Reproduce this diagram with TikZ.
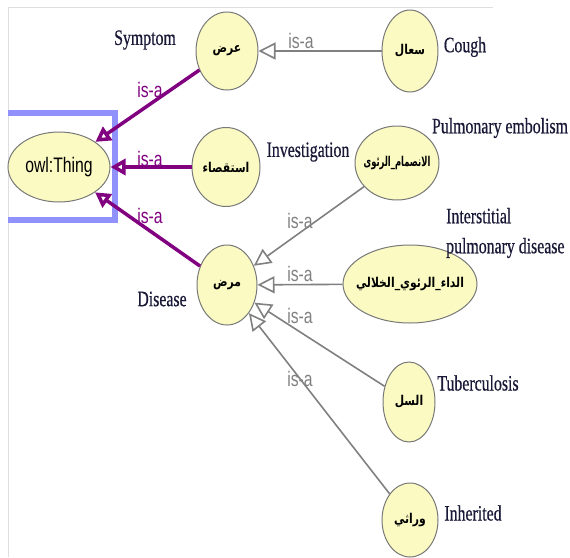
\documentclass[tikz,border=0pt]{standalone}
\usepackage{fontspec}
\setmainfont{Liberation Serif}[FakeStretch=0.72,FakeBold=0.5]
\newfontfamily\lsans{Liberation Sans}[FakeStretch=0.75]
\newfontfamily\arabicfont[Script=Arabic,FakeStretch=0.8]{DejaVu Sans Bold}
\newfontfamily\arabicnarrow[Script=Arabic,FakeStretch=0.62]{DejaVu Sans Bold}
\newcommand{\artxt}[1]{\makebox[0pt]{\beginR #1\endR}}
\TeXXeTstate=1
\usetikzlibrary{shapes.geometric,arrows.meta}
\definecolor{nodefill}{RGB}{250,250,194}
\definecolor{nodeline}{RGB}{120,120,120}
\definecolor{isapurple}{RGB}{128,0,128}
\definecolor{isagray}{RGB}{128,128,128}
\definecolor{selblue}{RGB}{145,145,252}
\definecolor{framegray}{RGB}{222,222,222}
\definecolor{labelnavy}{RGB}{25,25,55}
\tikzset{
  cls/.style={ellipse, draw=nodeline, line width=1pt, fill=nodefill, inner sep=0pt, font=\arabicfont\fontsize{13.5}{15}\selectfont},
  engl/.style={text=labelnavy, font=\fontsize{22}{24}\selectfont, inner sep=0pt},
  isalbl/.style={font=\lsans\fontsize{21}{22}\selectfont, inner sep=0pt},
  topedge/.style={draw=isapurple, line width=3.5pt, -{Triangle[open,length=15pt,width=16pt]}},
  subedge/.style={draw=isagray, line width=1.6pt, -{Triangle[open,length=17pt,width=17pt]}}
}
\begin{document}
\begin{tikzpicture}[x=1pt,y=-1pt]
\useasboundingbox (0,0) rectangle (570,557);
% frame
\draw[framegray, line width=1pt] (8,557) -- (8,7) -- (493,7);
% selection
\draw[selblue, line width=6pt] (8,113) -- (115,113) -- (115,220) -- (8,220);
% nodes
\node[cls, minimum width=102pt, minimum height=70pt, font=\lsans\fontsize{21}{22}\selectfont] (thing) at (59,167) {\makebox[0pt]{owl:Thing}};
\node[cls, minimum width=62pt, minimum height=78pt] (sym) at (227,51) {\artxt{عرض}};
\node[cls, minimum width=68pt, minimum height=79pt] (inv) at (226,167) {\artxt{استقصاء}};
\node[cls, minimum width=60pt, minimum height=80pt] (dis) at (227,285) {\artxt{مرض}};
\node[cls, minimum width=56pt, minimum height=82pt] (cough) at (410,51) {\artxt{سعال}};
\node[cls, minimum width=84pt, minimum height=74pt, font=\arabicnarrow\fontsize{13.5}{15}\selectfont] (pe) at (397,163) {\artxt{الانصمام\_الرئوى}};
\node[cls, minimum width=134pt, minimum height=78pt] (ipd) at (410,284) {\artxt{الداء\_الرئوي\_الخلالي}};
\node[cls, minimum width=52pt, minimum height=80pt] (tb) at (409,402) {\artxt{السل}};
\node[cls, minimum width=56pt, minimum height=74pt] (inh) at (410,520) {\artxt{وراثي}};
% edges
\draw[topedge] (sym) -- (thing);
\draw[topedge] (inv) -- (thing);
\draw[topedge] (dis) -- (thing);
\draw[subedge] (cough) -- (sym);
\draw[subedge] (pe) -- (dis);
\draw[subedge] (ipd) -- (dis);
\draw[subedge] (tb) -- (dis);
\draw[subedge] (inh) -- (dis);
% is-a labels
\node[isalbl, text=isapurple] (l1) at (150,90) {is-a};
\node[isalbl, text=isapurple] (l2) at (150,159) {is-a};
\node[isalbl, text=isapurple] (l3) at (150,216) {is-a};
\node[isalbl, text=isagray] (l4) at (301,41) {is-a};
\node[isalbl, text=isagray] (l5) at (300,221) {is-a};
\node[isalbl, text=isagray] (l6) at (300,274) {is-a};
\node[isalbl, text=isagray] (l7) at (300,316) {is-a};
\node[isalbl, text=isagray] (l8) at (300,379) {is-a};
% english labels
\node[engl] (tsym) at (145,40) {Symptom};
\node[engl] (tcough) at (465,47) {Cough};
\node[engl] (tinv) at (308,152) {Investigation};
\node[engl] (tpe) at (500,128) {Pulmonary embolism};
\node[engl, align=left, anchor=west, font=\fontsize{22}{30}\selectfont] (tipd) at (446,233) {Interstitial\\pulmonary disease};
\node[engl] (tdis) at (162,299) {Disease};
\node[engl] (ttb) at (478,383) {Tuberculosis};
\node[engl] (tinh) at (473,513) {Inherited};
\end{tikzpicture}
\end{document}
